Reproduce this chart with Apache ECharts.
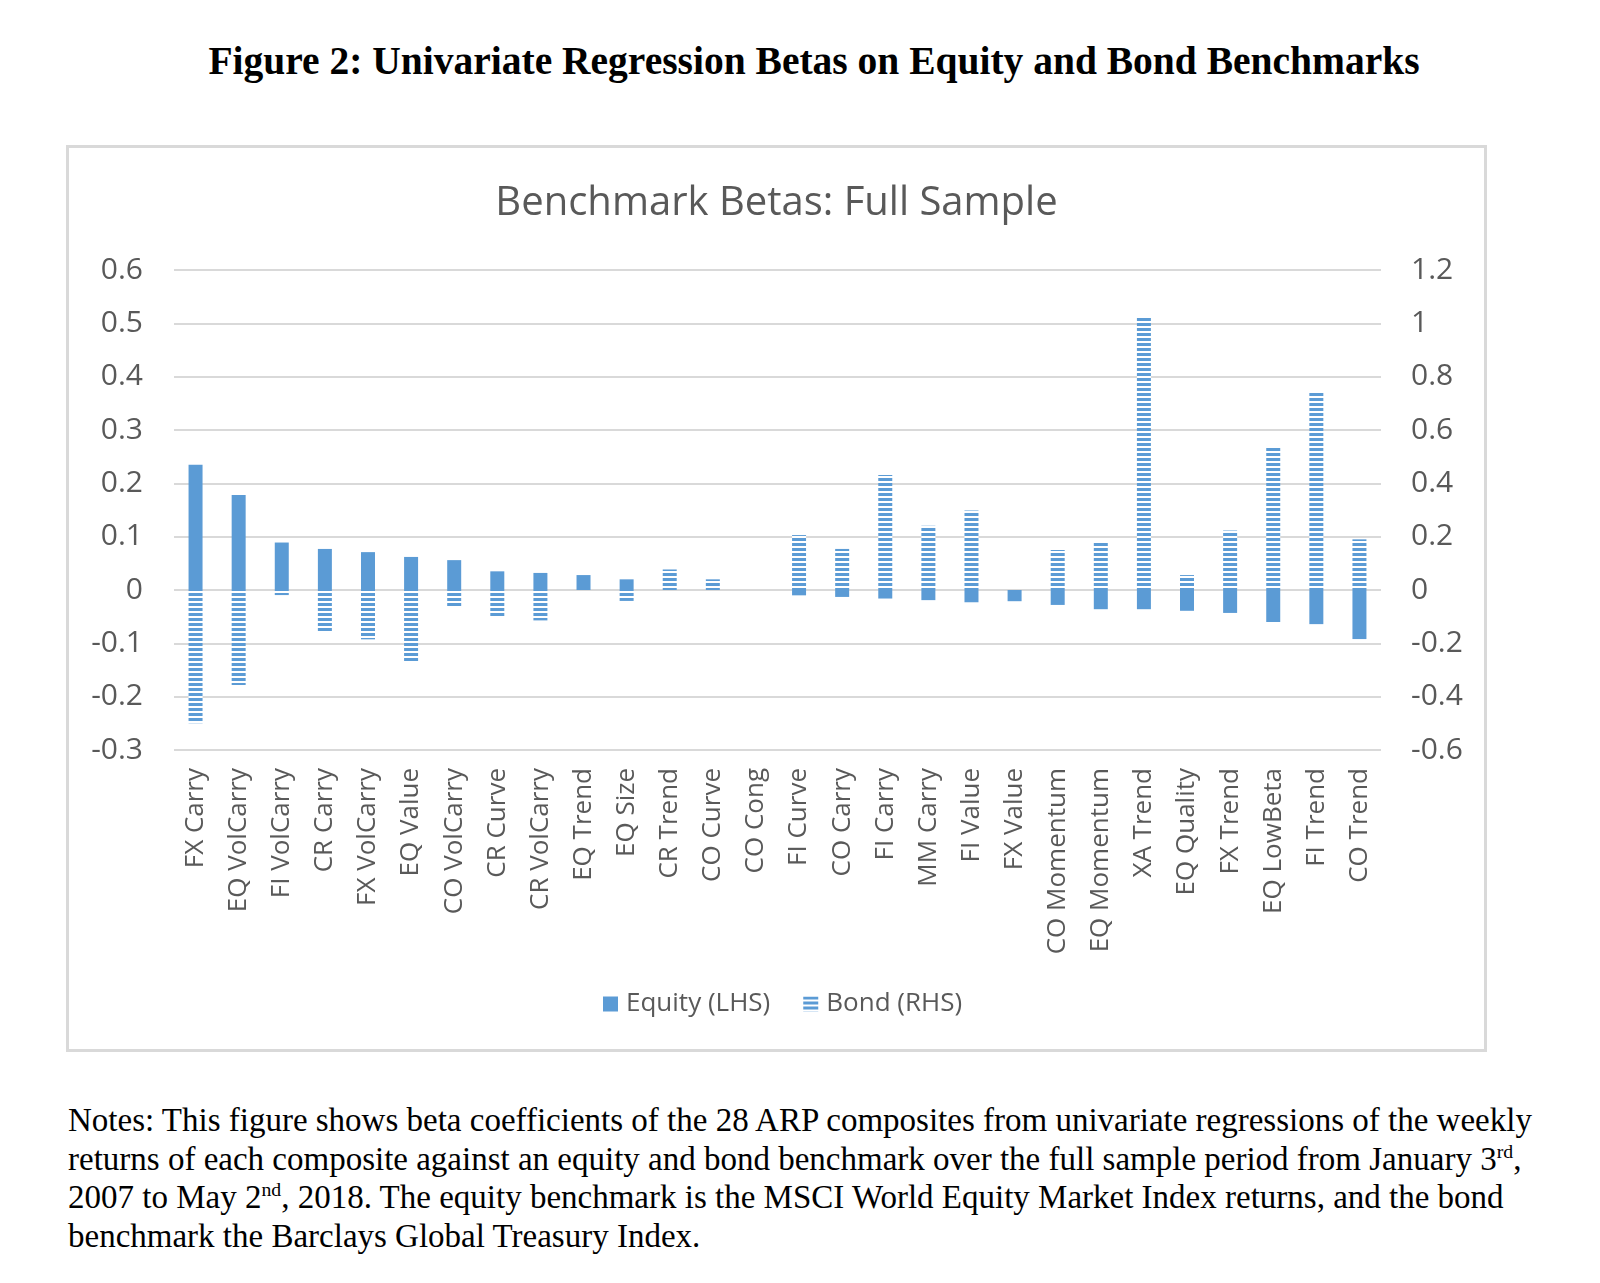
<!DOCTYPE html>
<html>
<head>
<meta charset="utf-8">
<script src="https://cdn.jsdelivr.net/npm/echarts@6/dist/echarts.min.js"></script>
<style>
  html, body { margin: 0; padding: 0; background: #fff; }
  body { width: 1600px; height: 1283px; position: relative; overflow: hidden; }
  #fig-title {
    position: absolute; left: 0; width: 1628px; top: 37px;
    text-align: center; font-family: "Liberation Serif", "Times New Roman", serif;
    font-weight: bold; font-size: 39.5px; line-height: 48px; color: #000;
  }
  #chart-box {
    position: absolute; left: 66px; top: 145px; width: 1415px; height: 901px;
    border: 3px solid #d9d9d9;
  }
  #chart { width: 1415px; height: 901px; }
  #notes {
    position: absolute; left: 68px; top: 1101px; width: 1530px;
    font-family: "Liberation Serif", "Times New Roman", serif;
    font-size: 33px; line-height: 38.5px; color: #000; white-space: nowrap;
  }
  #notes sup { font-size: 0.6em; line-height: 0; vertical-align: 0.6em; }
</style>
</head>
<body>
<div id="fig-title">Figure 2: Univariate Regression Betas on Equity and Bond Benchmarks</div>
<div id="chart-box"><div id="chart"></div></div>
<div id="notes">
Notes: This figure shows beta coefficients of the 28 ARP composites from univariate regressions of the weekly<br>
returns of each composite against an equity and bond benchmark over the full sample period from January 3<sup>rd</sup>,<br>
2007 to May 2<sup>nd</sup>, 2018. The equity benchmark is the MSCI World Equity Market Index returns, and the bond<br>
benchmark the Barclays Global Treasury Index.
</div>
<script>
const categories = [
  "FX Carry", "EQ VolCarry", "FI VolCarry", "CR Carry", "FX VolCarry", "EQ Value",
  "CO VolCarry", "CR Curve", "CR VolCarry", "EQ Trend", "EQ Size", "CR Trend",
  "CO Curve", "CO Cong", "FI Curve", "CO Carry", "FI Carry", "MM Carry",
  "FI Value", "FX Value", "CO Momentum", "EQ Momentum", "XA Trend", "EQ Quality",
  "FX Trend", "EQ LowBeta", "FI Trend", "CO Trend"
];

// Equity betas (left axis)
const equityBetas = [
  0.235, 0.178, 0.089, 0.077, 0.071, 0.062,
  0.056, 0.035, 0.032, 0.028, 0.020, 0,
  0, 0, -0.010, -0.013, -0.016, -0.019,
  -0.023, -0.021, -0.028, -0.036, -0.036, -0.039,
  -0.043, -0.060, -0.064, -0.092
];

// Bond betas (right axis)
const bondBetas = [
  -0.500, -0.356, -0.019, -0.156, -0.185, -0.269,
  -0.061, -0.098, -0.114, 0, -0.041, 0.077,
  0.040, 0, 0.206, 0.154, 0.431, 0.241,
  0.298, 0, 0.150, 0.180, 1.023, 0.056,
  0.223, 0.535, 0.744, 0.190
];

const leftTicks = { min: -0.3, max: 0.6, interval: 0.1 };
const rightTicks = { min: -0.6, max: 1.2, interval: 0.2 };

const blue = "#5b9bd5";
const textGrey = "#595959";
const font = "'Open Sans', 'Noto Sans', sans-serif";

// horizontal stripe pattern for the bond bars
function stripePattern() {
  const c = document.createElement("canvas");
  c.width = 4;
  c.height = 5;
  const ctx = c.getContext("2d");
  ctx.fillStyle = "#ffffff";
  ctx.fillRect(0, 0, 4, 5);
  ctx.fillStyle = blue;
  ctx.fillRect(0, 0, 4, 3);
  return { image: c, repeat: "repeat" };
}

const fmt = (v) => String(+v.toFixed(1));

const chart = echarts.init(document.getElementById("chart"));

const option = {
  animation: false,
  title: {
    text: "Benchmark Betas: Full Sample",
    left: "center",
    top: 31,
    textStyle: { fontFamily: font, fontSize: 40, fontWeight: "normal", color: textGrey },
  },
  legend: {
    bottom: 27,
    left: 529,
    icon: "rect",
    itemWidth: 15,
    itemHeight: 15,
    itemGap: 33,
    textStyle: { fontFamily: font, fontSize: 26, color: textGrey, padding: [0, 0, 0, 3] },
    data: ["Equity (LHS)", "Bond (RHS)"],
  },
  grid: { left: 105, right: 103, top: 122, bottom: 299 },
  xAxis: {
    type: "category",
    data: categories,
    axisLine: { show: false },
    axisTick: { show: false },
    axisLabel: {
      rotate: 90,
      interval: 0,
      margin: 18,
      fontFamily: font,
      fontSize: 26,
      color: textGrey,
    },
  },
  yAxis: [
    {
      type: "value",
      ...leftTicks,
      axisLine: { show: false },
      axisTick: { show: false },
      splitLine: { lineStyle: { color: "#d9d9d9", width: 2 } },
      axisLabel: { margin: 31, fontFamily: font, fontSize: 30, color: textGrey, formatter: fmt },
    },
    {
      type: "value",
      ...rightTicks,
      axisLine: { show: false },
      axisTick: { show: false },
      splitLine: { show: false },
      axisLabel: { margin: 30, fontFamily: font, fontSize: 30, color: textGrey, formatter: fmt },
    },
  ],
  series: [
    {
      name: "Equity (LHS)",
      type: "bar",
      yAxisIndex: 0,
      data: equityBetas,
      barWidth: 14,
      barGap: "-100%",
      itemStyle: { color: blue },
    },
    {
      name: "Bond (RHS)",
      type: "bar",
      yAxisIndex: 1,
      data: bondBetas,
      barWidth: 14,
      barGap: "-100%",
      itemStyle: { color: stripePattern() },
    },
  ],
};

chart.setOption(option);
</script>
</body>
</html>
